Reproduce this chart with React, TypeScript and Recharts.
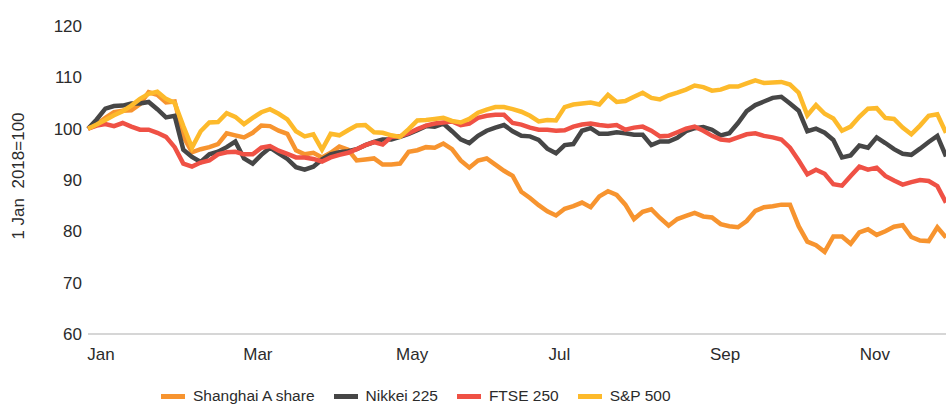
import React from "react";
import { LineChart, Line, XAxis, YAxis } from "recharts";

// index values, 1 Jan 2018 = 100
const shanghai = [
  100, 100.8, 102.1, 103.2, 103.5, 103.6, 104.8, 107.1, 106.6, 105.1,
  105.3, 98.5, 95.4, 96, 96.4, 97, 99.1, 98.7, 98.3, 99.2,
  100.6, 100.5, 99.6, 99, 95.8, 95, 95.3, 94.4, 95.3, 96.5,
  95.9, 93.8, 94, 94.2, 93, 93, 93.2, 95.5, 95.8, 96.4,
  96.3, 97.1, 96, 93.8, 92.4, 93.8, 94.2, 93, 91.8, 90.8,
  87.7, 86.5, 85.1, 83.9, 83.1, 84.4, 84.9, 85.6, 84.7, 86.8,
  87.8, 87.1, 85.2, 82.4, 83.8, 84.3, 82.6, 81.1, 82.4, 83,
  83.6, 82.9, 82.7, 81.4, 81, 80.8, 82, 84, 84.7, 84.9,
  85.2, 85.2, 81, 78, 77.3, 76, 79, 79, 77.6, 79.8,
  80.4, 79.3, 80, 80.9, 81.2, 78.9, 78.2, 78.1, 80.8, 78.8,
];
const nikkei = [
  100, 101.8, 103.9, 104.4, 104.5, 104.9, 104.9, 105.2, 103.8, 102.2,
  102.5, 95.9, 94.5, 93.5, 95, 95.5, 96.4, 97.5, 94.2, 93.2,
  94.9, 96.3, 95.2, 94.1, 92.5, 92, 92.6, 94, 95, 95.4,
  95.6, 96, 96.8, 97.4, 97.9, 97.9, 98.4, 99, 99.7, 100.5,
  100.4, 101, 99.5, 97.9, 97.2, 98.6, 99.6, 100.2, 100.7, 99.5,
  98.6, 98.5, 97.8, 96.1, 95.2, 96.8, 97, 99.6, 100.1, 99,
  99, 99.3, 99.1, 98.8, 98.8, 96.8, 97.5, 97.5, 98.2, 99.5,
  100.1, 100.3, 99.8, 98.7, 99.1, 101.1, 103.4, 104.6, 105.3, 106,
  106.2, 104.9, 103.5, 99.5, 100, 99.2, 97.8, 94.4, 94.8, 96.7,
  96.3, 98.3, 97.2, 96, 95.1, 94.9, 96.1, 97.4, 98.6, 94.6,
];
const ftse = [
  100, 100.6, 100.9, 100.5, 101.1, 100.4, 99.8, 99.8, 99.2, 98.4,
  96.4, 93.2, 92.6, 93.4, 93.8, 95, 95.4, 95.5, 95, 95,
  96.3, 96.6, 95.7, 95.1, 94.4, 94.4, 94.1, 93.6, 94.4, 94.9,
  95.3, 96, 96.8, 97.4, 96.9, 98.4, 98.5, 99.1, 99.9, 100.6,
  101, 101.2, 101.4, 100.7, 101, 102.1, 102.5, 102.7, 102.7, 101.1,
  100.8, 100.2, 99.8, 99.8, 99.6, 99.7, 100.4, 100.8, 101, 100.7,
  100.5, 100.7, 99.8, 100.2, 100.4, 99.6, 98.5, 98.6, 99.3, 100,
  100.4, 99.6, 98.6, 97.9, 97.7, 98.3, 98.9, 99.1, 98.6, 98.3,
  97.9, 96.3, 93.8, 91.1, 92, 91.2, 89.2, 88.9, 90.8, 92.6,
  92, 92.4, 90.8, 89.9, 89.1, 89.6, 90, 89.8, 88.8, 85.6,
];
const sp500 = [
  100, 100.8, 101.7, 102.6, 103.4, 104.5, 105.8, 106.8, 107.2, 105.8,
  105, 100.5, 96.3, 99.5, 101.2, 101.3, 103, 102.3, 100.9, 102.1,
  103.2, 103.8, 102.9, 101.8, 99.5, 98.5, 98.9, 95.9, 99, 98.7,
  99.7, 100.6, 100.7, 99.3, 99.2, 98.7, 98.4, 99.9, 101.6, 101.7,
  101.9, 102.1, 101.5, 101.2, 101.9, 103.1, 103.7, 104.2, 104.2, 103.8,
  103.3, 102.5, 101.4, 101.7, 101.6, 104.2, 104.7, 104.9, 105.1, 104.7,
  106.6, 105.2, 105.4, 106.2, 107, 106, 105.7, 106.5, 107, 107.6,
  108.4, 108.1, 107.4, 107.6, 108.2, 108.2, 108.8, 109.4, 108.9, 109,
  109.1, 108.6, 107, 102.6, 104.6, 102.9, 102, 99.6, 100.4, 102.3,
  103.9, 104, 102.1, 101.9, 100.2, 98.9, 100.6, 102.5, 102.8, 99.2,
];

const monthLabels = ["Jan", "Mar", "May", "Jul", "Sep", "Nov"];
const monthTicks = [1.5, 19.6, 37.4, 54.4, 73.5, 90.8];
const yTicks = [60, 70, 80, 90, 100, 110, 120];

const series = [
  { key: "shanghai", name: "Shanghai A share", color: "#F7942F" },
  { key: "nikkei", name: "Nikkei 225", color: "#464646" },
  { key: "ftse", name: "FTSE 250", color: "#EF5145" },
  { key: "sp500", name: "S&P 500", color: "#FDBA2B" },
];

const data = shanghai.map((v, i) => ({
  i,
  shanghai: v,
  nikkei: nikkei[i],
  ftse: ftse[i],
  sp500: sp500[i],
}));

const font = "Liberation Sans, Arial, sans-serif";

export default function App() {
  return (
    <div
      style={{
        position: "absolute",
        left: 0,
        top: 0,
        width: 946,
        height: 405,
        background: "#fff",
        fontFamily: font,
        overflow: "hidden",
      }}
    >
      <LineChart
        width={946}
        height={405}
        data={data}
        margin={{ top: 26, right: 0, bottom: 41, left: 28 }}
      >
        <XAxis
          dataKey="i"
          type="number"
          domain={[0, 99]}
          ticks={monthTicks}
          tickFormatter={(v) => monthLabels[monthTicks.indexOf(v)]}
          tickLine={false}
          tickMargin={8}
          axisLine={{ stroke: "#d6d6d6", strokeWidth: 2 }}
          tick={{ fill: "#2b2b2b", fontSize: 17, fontFamily: font }}
          interval={0}
        />
        <YAxis
          type="number"
          domain={[60, 120]}
          ticks={yTicks}
          width={60}
          axisLine={false}
          tickLine={false}
          tickMargin={0}
          tick={{ fill: "#2b2b2b", fontSize: 17, fontFamily: font }}
        />
        {series.map((s) => (
          <Line
            key={s.key}
            type="linear"
            dataKey={s.key}
            name={s.name}
            stroke={s.color}
            strokeWidth={4.5}
            dot={false}
            isAnimationActive={false}
          />
        ))}
      </LineChart>
      <div
        style={{
          position: "absolute",
          left: 19,
          top: 176,
          transform: "translate(-50%, -50%) rotate(-90deg)",
          whiteSpace: "pre",
          fontSize: 17,
          color: "#2b2b2b",
        }}
      >
        {"1 Jan  2018=100"}
      </div>
      <div
        style={{
          position: "absolute",
          left: 161,
          top: 387,
          display: "flex",
          alignItems: "center",
          gap: 19,
          fontSize: 15.5,
          color: "#2b2b2b",
        }}
      >
        {series.map((s) => (
          <div key={s.key} style={{ display: "flex", alignItems: "center" }}>
            <span
              style={{
                display: "inline-block",
                width: 24,
                height: 5,
                background: s.color,
                marginRight: 8,
              }}
            />
            <span>{s.name}</span>
          </div>
        ))}
      </div>
    </div>
  );
}
